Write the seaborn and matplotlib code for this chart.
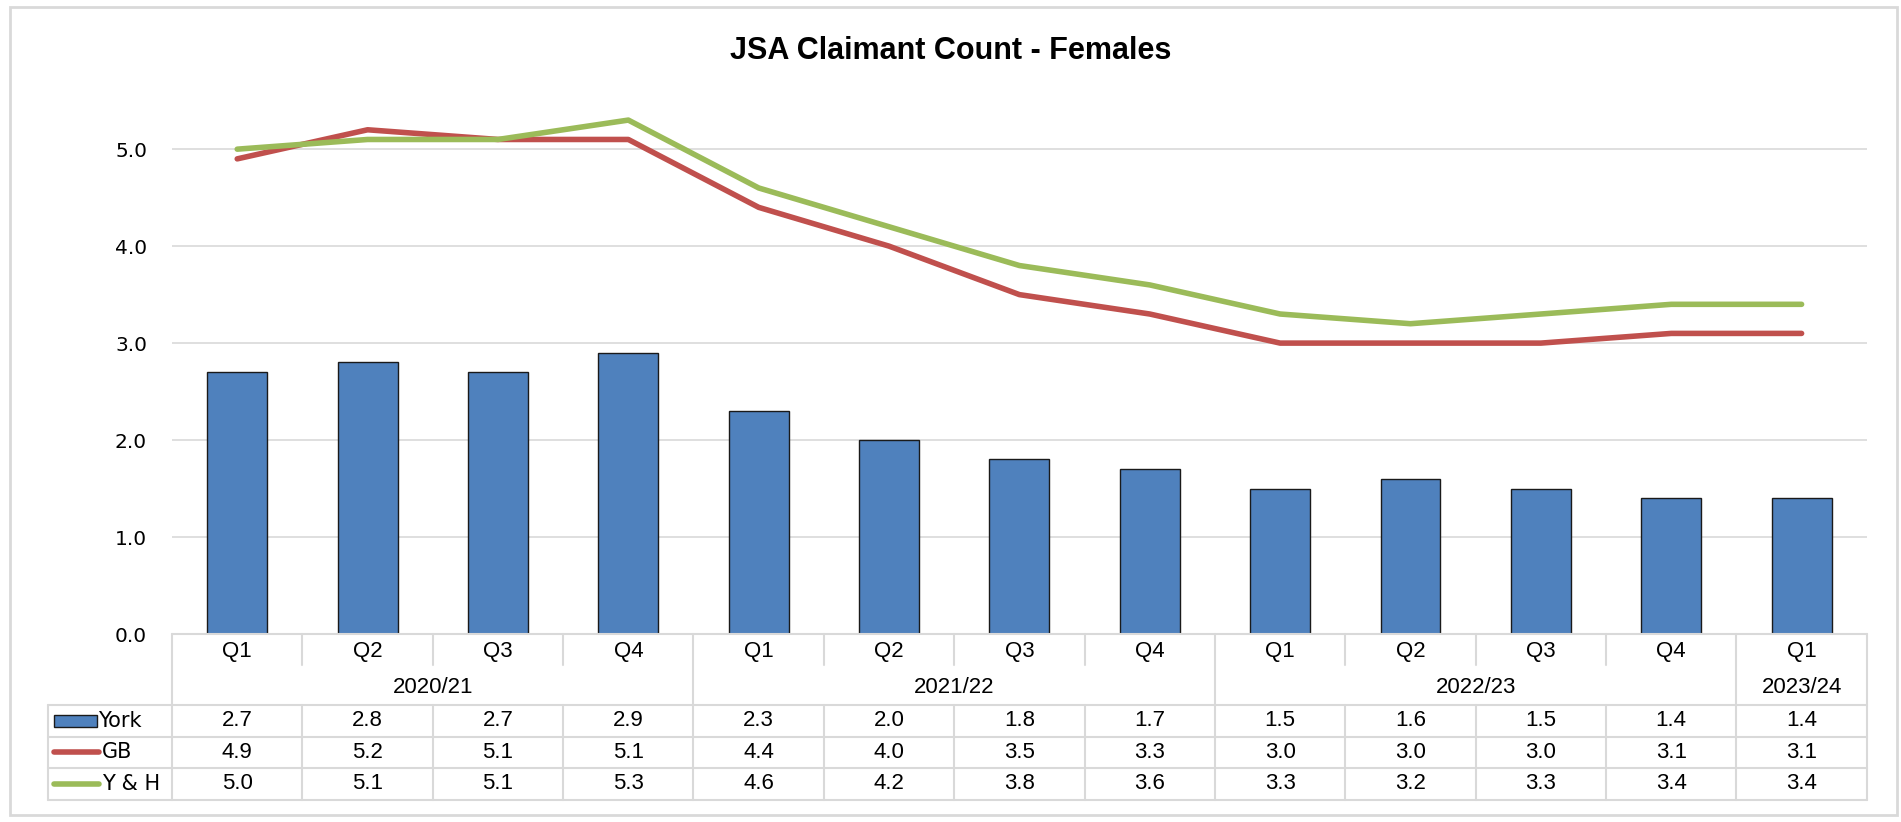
import matplotlib
matplotlib.use("Agg")
import matplotlib.pyplot as plt
from matplotlib.patches import Rectangle
import seaborn as sns
import numpy as np
import pandas as pd

# データ
quarters = ["Q1", "Q2", "Q3", "Q4", "Q1", "Q2", "Q3", "Q4", "Q1", "Q2", "Q3", "Q4", "Q1"]
years = ["2020/21"] * 4 + ["2021/22"] * 4 + ["2022/23"] * 4 + ["2023/24"]
york = [2.7, 2.8, 2.7, 2.9, 2.3, 2.0, 1.8, 1.7, 1.5, 1.6, 1.5, 1.4, 1.4]
gb = [4.9, 5.2, 5.1, 5.1, 4.4, 4.0, 3.5, 3.3, 3.0, 3.0, 3.0, 3.1, 3.1]
yh = [5.0, 5.1, 5.1, 5.3, 4.6, 4.2, 3.8, 3.6, 3.3, 3.2, 3.3, 3.4, 3.4]
yticks = [0.0, 1.0, 2.0, 3.0, 4.0, 5.0]

BLUE = "#4F81BD"
RED = "#C0504D"
GREEN = "#9BBB59"
GRID = "#D9D9D9"

sns.set_theme(style="white")
plt.rcParams["font.family"] = ["DejaVu Sans"]
plt.rcParams["text.color"] = "black"
plt.rcParams["ytick.color"] = "black"
narrow = ["Liberation Sans Narrow", "Liberation Sans", "DejaVu Sans"]

n = len(quarters)
df = pd.DataFrame({"pos": np.arange(n), "key": [f"{y} {q}" for y, q in zip(years, quarters)],
                   "York": york, "GB": gb, "Y & H": yh})

fig = plt.figure(figsize=(19.01, 8.22), dpi=100)
ax = fig.add_axes([0.0905, 0.2287, 0.8915, 0.696])

sns.barplot(data=df, x="key", y="York", order=df["key"], color=BLUE, width=0.46,
            edgecolor="#1a1a1a", linewidth=1.0, saturation=1, ax=ax, zorder=2)
sns.lineplot(x=df["pos"], y=df["GB"], color=RED, lw=4, ax=ax, zorder=3)
sns.lineplot(x=df["pos"], y=df["Y & H"], color=GREEN, lw=4, ax=ax, zorder=4)

ax.set_xlim(-0.5, n - 0.5)
ax.set_ylim(0, 5.9)
ax.set_yticks(yticks)
ax.set_yticklabels([f"{v:.1f}" for v in yticks], fontsize=14.5)
ax.set_xticks([])
ax.set_xlabel("")
ax.set_ylabel("")
ax.tick_params(axis="y", length=0, pad=18)
for v in yticks[1:]:
    ax.axhline(v, color=GRID, lw=1.2, zorder=0)
for s in ax.spines.values():
    s.set_visible(False)

fig.text(0.5, 0.938, "JSA Claimant Count - Females", ha="center", va="center",
         fontsize=22, fontweight="bold", family=narrow)

# データテーブル
legw = 0.949
catw = 0.8915 / n
tab = fig.add_axes([0.0905 - legw * catw, 0.0268, 0.8915 + legw * catw, 0.2019])
tab.set_xlim(-0.5 - legw, n - 0.5)
tab.set_ylim(166, 0)
tab.axis("off")
L = -0.5 - legw
R = n - 0.5
edges = [0, 35, 71, 103, 134, 166]
kw = dict(color=GRID, lw=1.5, clip_on=False)

tab.plot([-0.5, R], [0, 0], **kw)
for y in edges[2:]:
    tab.plot([L, R], [y, y], **kw)
tab.plot([L, L], [edges[2], edges[5]], **kw)
tab.plot([-0.5, -0.5], [0, edges[5]], **kw)
tab.plot([R, R], [0, edges[5]], **kw)
for i in range(1, n):
    if years[i] != years[i - 1]:
        tab.plot([i - 0.5, i - 0.5], [0, edges[5]], **kw)
    else:
        tab.plot([i - 0.5, i - 0.5], [0, 31], **kw)
        tab.plot([i - 0.5, i - 0.5], [edges[2], edges[5]], **kw)

fs = 16
for i, q in enumerate(quarters):
    tab.text(i, (edges[0] + edges[1]) / 2, q, ha="center", va="center", fontsize=fs, family=narrow)
for y in dict.fromkeys(years):
    idx = [i for i, v in enumerate(years) if v == y]
    tab.text(np.mean(idx), (edges[1] + edges[2]) / 2 + 1, y, ha="center", va="center",
             fontsize=fs, family=narrow)
for r, vals in enumerate([york, gb, yh]):
    yc = (edges[2 + r] + edges[3 + r]) / 2
    for i, v in enumerate(vals):
        tab.text(i, yc, f"{v:.1f}", ha="center", va="center", fontsize=fs, family=narrow)

# 凡例キー
kx0, kx1 = L + 0.045, L + 0.37
yc = (edges[2] + edges[3]) / 2
tab.add_patch(Rectangle((kx0, yc - 6), kx1 - kx0, 12, facecolor=BLUE, edgecolor="#1a1a1a",
                        lw=1.0, clip_on=False))
tab.text(kx1 + 0.01, yc, "York", ha="left", va="center", fontsize=15)
for r, (name, c) in enumerate([("GB", RED), ("Y & H", GREEN)]):
    yc = (edges[3 + r] + edges[4 + r]) / 2
    tab.plot([kx0, kx1 + 0.02], [yc, yc], color=c, lw=4, solid_capstyle="round", clip_on=False)
    tab.text(kx1 + 0.04, yc, name, ha="left", va="center", fontsize=15)

fig.patches.append(Rectangle((10 / 1901, 7 / 822), 1887 / 1901, 808 / 822, transform=fig.transFigure,
                             fill=False, edgecolor=GRID, lw=2))

fig.savefig("out.png", dpi=100)
